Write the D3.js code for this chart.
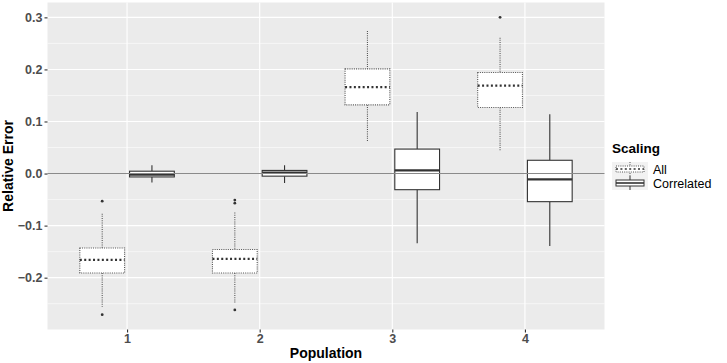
<!DOCTYPE html>
<html>
<head>
<meta charset="utf-8">
<script src="https://d3js.org/d3.v7.min.js"></script>
<style>
  body { margin: 0; background: #fff; }
  text { font-family: "Liberation Sans", Arial, sans-serif; }
</style>
</head>
<body>
<svg width="727" height="363"></svg>
<script>
// the svg
var svg = d3.select("svg"),
  width = +svg.attr("width"),
  height = +svg.attr("height");

// Data (box stats)
var populations = ["1", "2", "3", "4"];
var series = ["All", "Correlated"];
var yTicks = [-0.2, -0.1, 0.0, 0.1, 0.2, 0.3];
var yMinor = [-0.25, -0.15, -0.05, 0.05, 0.15, 0.25];

var allLower  = [-0.256, -0.249, 0.061, 0.043];
var allQ1     = [-0.191, -0.191, 0.132, 0.127];
var allMedian = [-0.166, -0.164, 0.166, 0.169];
var allQ3     = [-0.143, -0.146, 0.201, 0.194];
var allUpper  = [-0.077, -0.075, 0.274, 0.261];
var allOutliers = [[-0.053, -0.271], [-0.051, -0.057, -0.262], [], [0.300]];

var corLower  = [-0.017, -0.018, -0.134, -0.139];
var corQ1     = [-0.0065, -0.005, -0.031, -0.054];
var corMedian = [-0.002, 0.002, 0.006, -0.011];
var corQ3     = [0.0045, 0.006, 0.047, 0.0255];
var corUpper  = [0.016, 0.016, 0.118, 0.114];
var corOutliers = [[], [], [], []];

// build one record per box
var boxes = [];
populations.forEach(function(p, i) {
  boxes.push({pop: p, s: "All", lo: allLower[i], q1: allQ1[i], med: allMedian[i], q3: allQ3[i], hi: allUpper[i], out: allOutliers[i]});
  boxes.push({pop: p, s: "Correlated", lo: corLower[i], q1: corQ1[i], med: corMedian[i], q3: corQ3[i], hi: corUpper[i], out: corOutliers[i]});
});

// layout
var panel = {left: 47.5, right: 604.5, top: 2.5, bottom: 329.5};

var x = d3.scalePoint()
  .domain(populations)
  .range([panel.left, panel.right])
  .padding(0.6);

var step = x.step();
var dodge = d3.scaleOrdinal().domain(series).range([-0.1875 * step, 0.1875 * step]);
var boxW = 0.3375 * step;

var allVals = boxes.reduce(function(a, b) { return a.concat([b.lo, b.hi], b.out); }, []);
var yMin = d3.min(allVals), yMax = d3.max(allVals), pad = (yMax - yMin) * 0.05;
var y = d3.scaleLinear()
  .domain([yMin - pad, yMax + pad])
  .range([panel.bottom, panel.top]);

var styles = {
  All: {dash: "1,1.2", medDash: "2,2.4", stroke: "#555"},
  Correlated: {dash: null, medDash: null, stroke: "#333"}
};

// panel background + grid
svg.append("rect")
  .attr("x", panel.left).attr("y", panel.top)
  .attr("width", panel.right - panel.left).attr("height", panel.bottom - panel.top)
  .attr("fill", "#EBEBEB");

svg.append("g").selectAll("line")
  .data(yMinor)
  .enter().append("line")
    .attr("x1", panel.left).attr("x2", panel.right)
    .attr("y1", function(d) { return y(d); }).attr("y2", function(d) { return y(d); })
    .attr("stroke", "#fff").attr("stroke-width", 0.55);

svg.append("g").selectAll("line")
  .data(yTicks)
  .enter().append("line")
    .attr("x1", panel.left).attr("x2", panel.right)
    .attr("y1", function(d) { return y(d); }).attr("y2", function(d) { return y(d); })
    .attr("stroke", "#fff").attr("stroke-width", 1.1);

svg.append("g").selectAll("line")
  .data(populations)
  .enter().append("line")
    .attr("y1", panel.top).attr("y2", panel.bottom)
    .attr("x1", function(d) { return x(d); }).attr("x2", function(d) { return x(d); })
    .attr("stroke", "#fff").attr("stroke-width", 1.1);

// boxes
var g = svg.append("g").selectAll("g")
  .data(boxes)
  .enter().append("g")
    .attr("transform", function(d) { return "translate(" + (x(d.pop) + dodge(d.s)) + ",0)"; });

g.append("line")
  .attr("x1", 0).attr("x2", 0)
  .attr("y1", function(d) { return y(d.hi); }).attr("y2", function(d) { return y(d.q3); })
  .attr("stroke", function(d) { return styles[d.s].stroke; })
  .attr("stroke-width", 1.1)
  .attr("stroke-dasharray", function(d) { return styles[d.s].dash; });

g.append("line")
  .attr("x1", 0).attr("x2", 0)
  .attr("y1", function(d) { return y(d.q1); }).attr("y2", function(d) { return y(d.lo); })
  .attr("stroke", function(d) { return styles[d.s].stroke; })
  .attr("stroke-width", 1.1)
  .attr("stroke-dasharray", function(d) { return styles[d.s].dash; });

g.append("rect")
  .attr("x", -boxW / 2).attr("width", boxW)
  .attr("y", function(d) { return y(d.q3); })
  .attr("height", function(d) { return y(d.q1) - y(d.q3); })
  .attr("fill", "#fff")
  .attr("stroke", function(d) { return styles[d.s].stroke; })
  .attr("stroke-width", 1.1)
  .attr("stroke-dasharray", function(d) { return styles[d.s].dash; });

g.append("line")
  .attr("x1", -boxW / 2).attr("x2", boxW / 2)
  .attr("y1", function(d) { return y(d.med); }).attr("y2", function(d) { return y(d.med); })
  .attr("stroke", "#333")
  .attr("stroke-width", 2.2)
  .attr("stroke-dasharray", function(d) { return styles[d.s].medDash; });

g.selectAll("circle")
  .data(function(d) { return d.out; })
  .enter().append("circle")
    .attr("cx", 0)
    .attr("cy", function(d) { return y(d); })
    .attr("r", 1.4)
    .attr("fill", "#333");

// zero reference line
svg.append("line")
  .attr("x1", panel.left).attr("x2", panel.right)
  .attr("y1", y(0)).attr("y2", y(0))
  .attr("stroke", "#8a8a8a").attr("stroke-width", 1.1);

// axes
var yAxis = svg.append("g")
  .attr("transform", "translate(" + panel.left + ",0)")
  .call(d3.axisLeft(y).tickValues(yTicks).tickSize(3).tickPadding(2)
    .tickFormat(function(d) { return d3.format(".1f")(d).replace("-", "\u2212"); }));
yAxis.select(".domain").remove();
yAxis.selectAll(".tick line").attr("stroke", "#333").attr("stroke-width", 1.1);
yAxis.selectAll(".tick text")
  .attr("fill", "#4D4D4D").attr("font-size", 12.5).attr("font-weight", "bold")
  .attr("font-family", "Liberation Sans, Arial, sans-serif");

var xAxis = svg.append("g")
  .attr("transform", "translate(0," + panel.bottom + ")")
  .call(d3.axisBottom(x).tickSize(3).tickPadding(2));
xAxis.select(".domain").remove();
xAxis.selectAll(".tick line").attr("stroke", "#333").attr("stroke-width", 1.1);
xAxis.selectAll(".tick text")
  .attr("fill", "#4D4D4D").attr("font-size", 12.5).attr("font-weight", "bold")
  .attr("font-family", "Liberation Sans, Arial, sans-serif");

// axis titles
svg.append("text")
  .attr("x", (panel.left + panel.right) / 2).attr("y", 358)
  .attr("text-anchor", "middle")
  .attr("font-size", 14).attr("font-weight", "bold")
  .text("Population");

svg.append("text")
  .attr("transform", "translate(13," + (panel.top + panel.bottom) / 2 + ") rotate(-90)")
  .attr("text-anchor", "middle")
  .attr("font-size", 14).attr("font-weight", "bold")
  .text("Relative Error");

// legend
var legend = svg.append("g").attr("transform", "translate(612,139)");

legend.append("text")
  .attr("x", 0).attr("y", 14)
  .attr("font-size", 13.5).attr("font-weight", "bold")
  .text("Scaling");

var key = legend.selectAll("g.key")
  .data(series)
  .enter().append("g")
    .attr("class", "key")
    .attr("transform", function(d, i) { return "translate(0," + (23 + i * 14) + ")"; });

key.append("rect")
  .attr("width", 36).attr("height", 14)
  .attr("fill", "#F2F2F2");

key.append("line")
  .attr("x1", 18).attr("x2", 18).attr("y1", 0).attr("y2", 14)
  .attr("stroke", function(d) { return styles[d].stroke; })
  .attr("stroke-width", 1)
  .attr("stroke-dasharray", function(d) { return styles[d].dash; });

key.append("rect")
  .attr("x", 4).attr("y", 4).attr("width", 28).attr("height", 6)
  .attr("fill", "#fff")
  .attr("stroke", function(d) { return styles[d].stroke; })
  .attr("stroke-width", 1)
  .attr("stroke-dasharray", function(d) { return styles[d].dash; });

key.append("line")
  .attr("x1", 4).attr("x2", 32).attr("y1", 7).attr("y2", 7)
  .attr("stroke", "#333").attr("stroke-width", 1.6)
  .attr("stroke-dasharray", function(d) { return styles[d].medDash; });

key.append("text")
  .attr("x", 41).attr("y", 11.5)
  .attr("font-size", 12.5)
  .attr("fill", "#000")
  .text(function(d) { return d; });
</script>
</body>
</html>
